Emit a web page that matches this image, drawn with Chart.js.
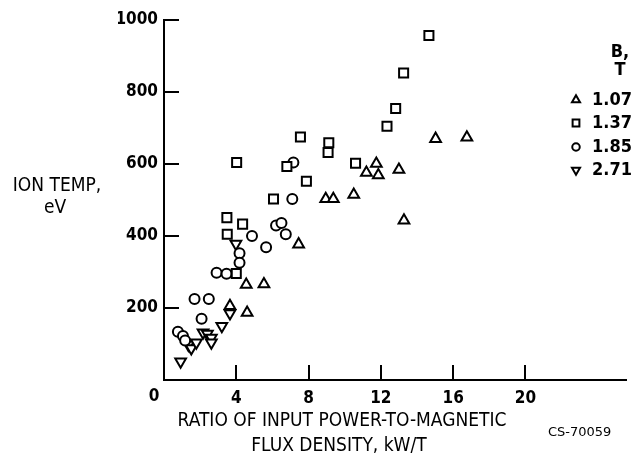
<!DOCTYPE html>
<html>
<head>
<meta charset="utf-8">
<script src="https://cdn.jsdelivr.net/npm/chart.js@4/dist/chart.umd.min.js"></script>
<style>
  html, body { margin: 0; padding: 0; background: #fff; }
  #wrap { width: 635px; height: 462px; position: relative; }
</style>
</head>
<body>
<div id="wrap"><canvas id="ionChart"></canvas></div>
<script>
// magnetic flux density groups, T
const fieldLabels = ["1.07", "1.37", "1.85", "2.71"];

// ratio of input power to flux density (kW/T) and ion temperature (eV) per group
const ratio107 = [3.65, 4.55, 4.6, 5.53, 7.45, 8.95, 9.37, 10.5, 11.2, 11.75, 11.86, 13.0, 13.28, 15.03, 16.76];
const temp107  = [206, 265, 187, 266, 377, 503, 503, 515, 576, 601, 569, 584, 443, 670, 674];

const ratio137 = [3.48, 3.5, 4.02, 4.0, 4.35, 6.06, 6.8, 7.55, 7.88, 9.08, 9.12, 10.6, 12.34, 12.82, 13.26, 14.66];
const temp137  = [451, 405, 604, 296, 433, 503, 593, 675, 552, 632, 659, 602, 705, 754, 853, 957];

const ratio185 = [0.77, 1.05, 1.17, 1.69, 2.08, 2.48, 2.91, 3.46, 4.18, 4.18, 4.87, 5.65, 6.2, 6.5, 6.74, 7.1, 7.16];
const temp185  = [134, 122, 110, 225, 170, 225, 298, 295, 352, 326, 400, 369, 429, 436, 405, 503, 604];

const ratio271 = [0.92, 1.35, 1.51, 1.79, 2.16, 2.4, 2.62, 2.62, 3.2, 3.65, 3.98];
const temp271  = [51, 98, 88, 104, 132, 128, 117, 104, 150, 185, 378];

const xTickValues = [0, 4, 8, 12, 16, 20];
const yTickValues = [200, 400, 600, 800, 1000];

const narrow = "'DejaVu Sans Condensed', 'Liberation Sans Narrow', sans-serif";

function toPoints(xs, ys) {
  return xs.map((x, i) => ({ x: x, y: ys[i] }));
}

const markerStyles = [
  { style: "triangle", rotation: 0, radius: 6.2 },
  { style: "rect", rotation: 0, radius: 6.4 },
  { style: "circle", rotation: 0, radius: 5 },
  { style: "triangle", rotation: 180, radius: 6.2 }
];
const seriesData = [
  toPoints(ratio107, temp107),
  toPoints(ratio137, temp137),
  toPoints(ratio185, temp185),
  toPoints(ratio271, temp271)
];

// inside tick marks, shared origin label, axis titles, the B,T key and the figure number
const paperDecor = {
  id: "paperDecor",
  afterDraw(chart) {
    const ctx = chart.ctx;
    const xs = chart.scales.x, ys = chart.scales.y;
    const area = chart.chartArea;
    ctx.save();
    ctx.strokeStyle = "#000";
    ctx.lineWidth = 2;
    xTickValues.slice(1).forEach(v => {
      const px = Math.round(xs.getPixelForValue(v));
      ctx.beginPath();
      ctx.moveTo(px, area.bottom);
      ctx.lineTo(px, area.bottom - 15);
      ctx.stroke();
    });
    yTickValues.forEach(v => {
      const py = Math.round(ys.getPixelForValue(v));
      ctx.beginPath();
      ctx.moveTo(area.left, py);
      ctx.lineTo(area.left + 15, py);
      ctx.stroke();
    });

    ctx.fillStyle = "#000";
    ctx.textAlign = "center";
    ctx.textBaseline = "middle";
    ctx.font = "bold 17px " + narrow;
    ctx.fillText("0", xs.getPixelForValue(0) - 10, area.bottom + 17);

    ctx.font = "19px " + narrow;
    ctx.fillText("ION TEMP,", 57, 186);
    ctx.fillText("eV", 55, 208);
    ctx.fillText("RATIO OF INPUT POWER-TO-MAGNETIC", 342, 421);
    ctx.fillText("FLUX DENSITY, kW/T", 339, 446);

    ctx.font = "13px 'DejaVu Sans', sans-serif";
    ctx.textAlign = "left";
    ctx.fillText("CS-70059", 548, 433);

    // key
    ctx.font = "bold 18px " + narrow;
    ctx.textAlign = "center";
    ctx.fillText("B,", 620, 52);
    ctx.fillText("T", 620, 70);
    ctx.textAlign = "left";
    const rowY = [100, 123, 147, 170];
    fieldLabels.forEach((lab, i) => {
      const m = markerStyles[i];
      ctx.lineWidth = 2;
      ctx.strokeStyle = "#000";
      ctx.fillStyle = "#fff";
      Chart.helpers.drawPoint(ctx, {
        pointStyle: m.style,
        rotation: m.rotation,
        radius: m.radius * 0.75,
        borderWidth: 2
      }, 576, rowY[i]);
      ctx.fillStyle = "#000";
      ctx.fillText(lab, 592, rowY[i]);
    });
    ctx.restore();
  }
};

new Chart(document.getElementById("ionChart"), {
  type: "scatter",
  data: {
    datasets: seriesData.map((pts, i) => ({
      label: fieldLabels[i] + " T",
      data: pts,
      pointStyle: markerStyles[i].style,
      rotation: markerStyles[i].rotation,
      pointRadius: markerStyles[i].radius,
      pointHoverRadius: markerStyles[i].radius,
      pointBackgroundColor: "#fff",
      pointBorderColor: "#000",
      pointBorderWidth: 2
    }))
  },
  options: {
    responsive: true,
    maintainAspectRatio: false,
    animation: false,
    devicePixelRatio: 1,
    layout: { padding: { left: 118, right: 8, top: 20, bottom: 56 } },
    plugins: {
      legend: { display: false },
      tooltip: { enabled: false }
    },
    scales: {
      x: {
        type: "linear",
        min: 0,
        max: 25.6,
        afterBuildTicks: axis => { axis.ticks = xTickValues.map(v => ({ value: v })); },
        afterFit: axis => { axis.height = 26; },
        ticks: {
          color: "#000",
          padding: 8,
          maxRotation: 0,
          // the origin "0" is drawn by paperDecor, offset to the left like the original
          callback: v => (v === 0 ? "" : String(v)),
          font: { family: narrow, size: 17, weight: "bold" }
        },
        grid: { display: true, drawOnChartArea: false, drawTicks: false },
        border: { display: true, color: "#000", width: 2 }
      },
      y: {
        type: "linear",
        min: 0,
        max: 1000,
        afterBuildTicks: axis => { axis.ticks = yTickValues.map(v => ({ value: v })); },
        afterFit: axis => { axis.width = 46; },
        ticks: {
          color: "#000",
          padding: 6,
          callback: v => String(v),
          font: { family: narrow, size: 17, weight: "bold" }
        },
        grid: { display: true, drawOnChartArea: false, drawTicks: false },
        border: { display: true, color: "#000", width: 2 }
      }
    }
  },
  plugins: [paperDecor]
});
</script>
</body>
</html>
